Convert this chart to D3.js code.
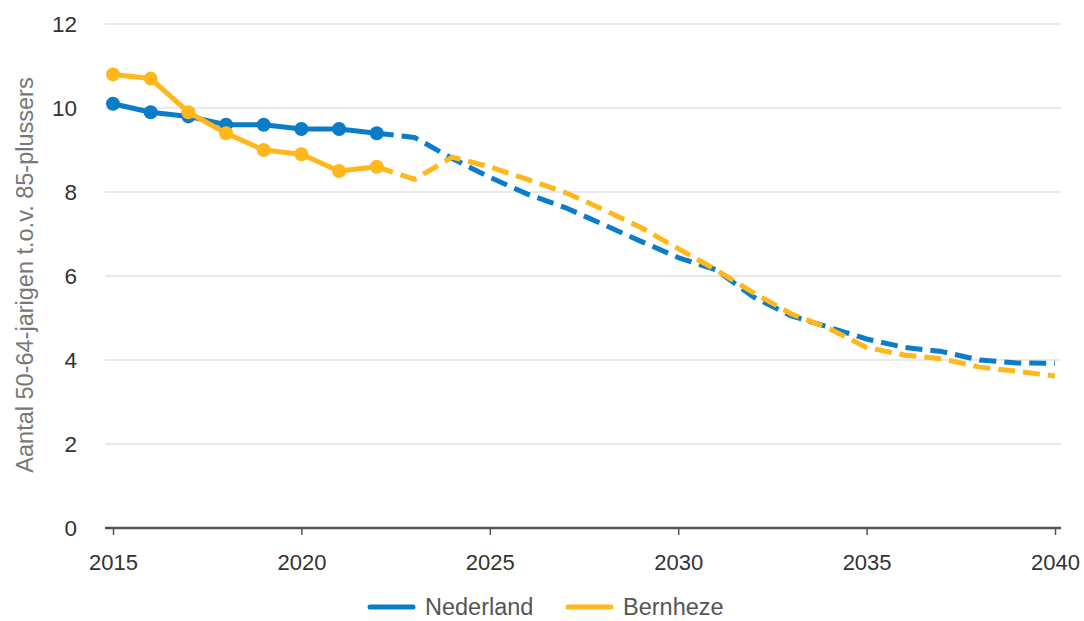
<!DOCTYPE html>
<html>
<head>
<meta charset="utf-8">
<script src="https://cdn.jsdelivr.net/npm/d3@7"></script>
<style>
  body { margin: 0; background: #fff; font-family: "Liberation Sans", Arial, sans-serif; }
</style>
</head>
<body>
<svg id="chart"></svg>
<script>
// data
const years = d3.range(2015, 2041);
const nederland = [10.1, 9.9, 9.8, 9.6, 9.6, 9.5, 9.5, 9.4, 9.3, 8.8,
                   8.35, 7.95, 7.63, 7.23, 6.83, 6.44, 6.15, 5.5, 5.05, 4.78,
                   4.5, 4.3, 4.2, 4.0, 3.93, 3.92];
const bernheze = [10.8, 10.7, 9.9, 9.4, 9.0, 8.9, 8.5, 8.6, 8.3, 8.83,
                  8.6, 8.3, 7.99, 7.59, 7.16, 6.65, 6.15, 5.6, 5.1, 4.75,
                  4.3, 4.12, 4.03, 3.83, 3.73, 3.62];
const lastObserved = 2022; // markers + solid line up to here
const yTicks = [0, 2, 4, 6, 8, 10, 12];
const xTicks = [2015, 2020, 2025, 2030, 2035, 2040];
const seriesNames = ["Nederland", "Bernheze"];
const colors = ["#0A7CC8", "#FFB71B"];

const width = 1084, height = 621;
const margin = { top: 24, right: 29, bottom: 93, left: 113 };

const svg = d3.select("#chart").attr("width", width).attr("height", height);

const x = d3.scaleLinear().domain([2015, 2040]).range([margin.left, width - margin.right]);
const y = d3.scaleLinear().domain([0, 12]).range([height - margin.bottom, margin.top]);

// gridlines
svg.append("g")
  .selectAll("line")
  .data(yTicks.filter(d => d > 0))
  .enter()
  .append("line")
  .attr("x1", margin.left - 8)
  .attr("x2", width - margin.right + 6)
  .attr("y1", d => y(d))
  .attr("y2", d => y(d))
  .attr("stroke", "#e2e2e2")
  .attr("stroke-width", 1.5);

// y tick labels
svg.append("g")
  .selectAll("text")
  .data(yTicks)
  .enter()
  .append("text")
  .attr("x", 77)
  .attr("y", d => y(d))
  .attr("dy", "0.35em")
  .attr("text-anchor", "end")
  .attr("font-size", 22.5)
  .attr("fill", "#333")
  .text(d => d);

// x axis
const xAxis = svg.append("g")
  .attr("transform", "translate(0," + y(0) + ")")
  .call(d3.axisBottom(x).tickValues(xTicks).tickFormat(d3.format("d")).tickSize(7).tickPadding(19));
xAxis.select(".domain")
  .attr("stroke", "#555")
  .attr("stroke-width", 2.5)
  .attr("d", "M" + (margin.left - 8) + ",0H" + (width - margin.right + 6));
xAxis.selectAll(".tick line").attr("stroke", "#555").attr("stroke-width", 1.5);
xAxis.selectAll(".tick text")
  .attr("font-size", 22)
  .attr("font-family", "Liberation Sans, Arial, sans-serif")
  .attr("fill", "#333");

// y axis title
svg.append("text")
  .attr("transform", "translate(33,275) rotate(-90)")
  .attr("text-anchor", "middle")
  .attr("font-size", 23.5)
  .attr("fill", "#777")
  .text("Aantal 50-64-jarigen t.o.v. 85-plussers");

// series
const allSeries = [nederland, bernheze];
allSeries.forEach(function (vals, i) {
  const pts = years.map((yr, j) => ({ year: yr, value: vals[j] }));
  const solid = pts.filter(d => d.year <= lastObserved);
  const dashed = pts.filter(d => d.year >= lastObserved);
  const line = d3.line().x(d => x(d.year)).y(d => y(d.value));

  svg.append("path")
    .datum(dashed)
    .attr("d", line)
    .attr("fill", "none")
    .attr("stroke", colors[i])
    .attr("stroke-width", 5)
    .attr("stroke-dasharray", "17,8")
    .attr("stroke-linejoin", "round");

  svg.append("path")
    .datum(solid)
    .attr("d", line)
    .attr("fill", "none")
    .attr("stroke", colors[i])
    .attr("stroke-width", 5)
    .attr("stroke-linejoin", "round");

  svg.append("g")
    .selectAll("circle")
    .data(solid)
    .enter()
    .append("circle")
    .attr("cx", d => x(d.year))
    .attr("cy", d => y(d.value))
    .attr("r", 7)
    .attr("fill", colors[i]);
});

// legend
const legend = svg.append("g").attr("transform", "translate(0,607)");
const legX = [370, 568];
seriesNames.forEach(function (name, i) {
  legend.append("line")
    .attr("x1", legX[i]).attr("x2", legX[i] + 43)
    .attr("y1", 0).attr("y2", 0)
    .attr("stroke", colors[i])
    .attr("stroke-width", 5)
    .attr("stroke-linecap", "round");
  legend.append("text")
    .attr("x", legX[i] + 55)
    .attr("y", 0)
    .attr("dy", "0.35em")
    .attr("font-size", 23.5)
    .attr("fill", "#555")
    .text(name);
});
</script>
</body>
</html>
